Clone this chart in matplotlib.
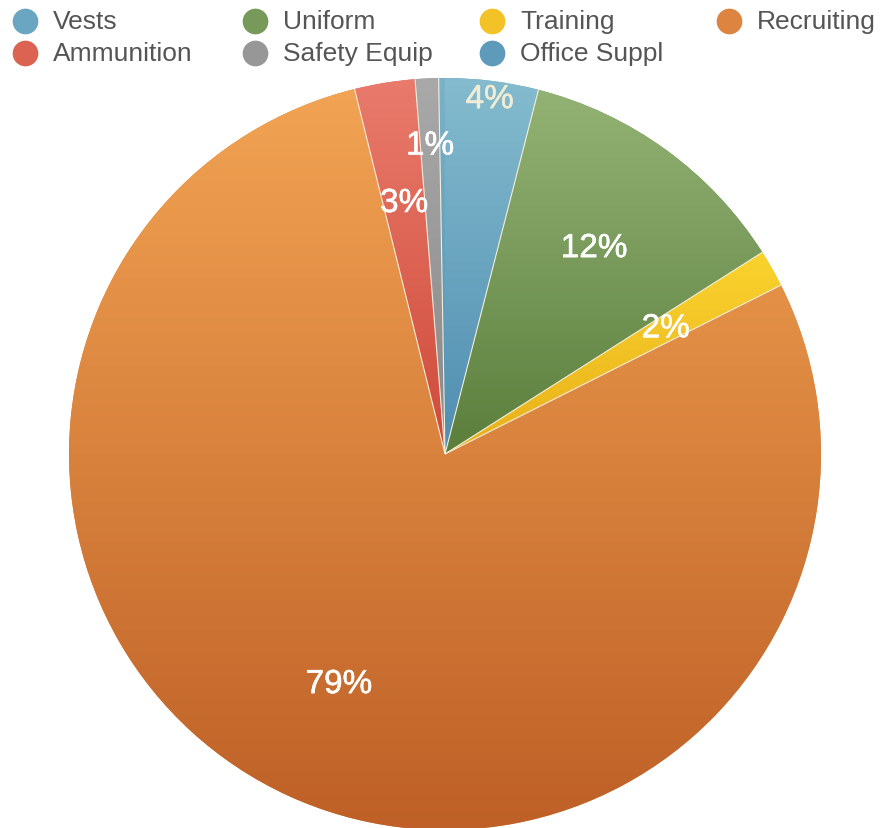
import numpy as np
import matplotlib
matplotlib.use("Agg")
import matplotlib.pyplot as plt
import matplotlib.patheffects as pe
from matplotlib.colors import LinearSegmentedColormap

plt.rcParams['font.family'] = ['Liberation Sans', 'DejaVu Sans']

# 各类支出占比（%）
categories = ["Vests", "Uniform", "Training", "Recruiting",
              "Ammunition", "Safety Equip", "Office Suppl"]
values = [4.0, 12.0, 1.6, 78.6, 2.6, 1.0, 0.27]

# 每个扇区的渐变色：上端浅色 -> 下端深色
top_colors = ["#84BBCE", "#93B374", "#FAD32E", "#F2A353",
              "#E97B6C", "#A9A9A9", "#7AB2C9"]
bottom_colors = ["#4F8DB0", "#5B7E3D", "#E8B01A", "#BE6027",
                 "#CF4A39", "#888888", "#4F8DB0"]
legend_colors = ["#6AA6C2", "#77995A", "#F2C226", "#DC8440",
                 "#DC6352", "#979797", "#5E9BBA"]

# 标签沿半径方向的位置（小扇区的标签向外挪，避免重叠）
label_radius = [0.95, 0.675, 0.675, 0.675, 0.675, 0.82, None]
label_colors = ["#F1ECD6", "white", "white", "white", "white", "white", "white"]

W, H = 883, 829
fig = plt.figure(figsize=(W / 100, H / 100), dpi=100)

# 饼图区域：圆心 (445, 455)，半径 376 像素
cx, cy, R = 445, 455, 376
ax = fig.add_axes([(cx - R) / W, (H - cy - R) / H, 2 * R / W, 2 * R / H])

wedges, _ = ax.pie(values, startangle=90, counterclock=False, radius=1,
                   colors=legend_colors, wedgeprops=dict(linewidth=0))

# 给每个扇区铺一层竖直渐变，并裁剪到扇区形状内
grad = np.linspace(0, 1, 256).reshape(-1, 1)
for w, c_top, c_bot in zip(wedges, top_colors, bottom_colors):
    bb = w.get_path().get_extents()
    cmap = LinearSegmentedColormap.from_list("g", [c_bot, c_top])
    im = ax.imshow(grad, cmap=cmap, origin="lower", aspect="auto",
                   extent=[bb.x0, bb.x1, bb.y0, bb.y1], zorder=w.get_zorder() + 0.1,
                   interpolation="bilinear")
    im.set_clip_path(w)

# 相邻扇区之间的分隔线（只画半径方向，不画外圈）
bounds = 90 - np.cumsum(values)[:-1] / sum(values) * 360
for a in np.deg2rad(bounds):
    ax.plot([0, np.cos(a)], [0, np.sin(a)], color="#F3EEDD", linewidth=0.8,
            zorder=5, solid_capstyle="butt")

total = sum(values)
for w, v, r, col in zip(wedges, values, label_radius, label_colors):
    if r is None:
        continue
    mid = np.deg2rad((w.theta1 + w.theta2) / 2)
    ax.text(r * np.cos(mid), r * np.sin(mid), f"{round(v / total * 100):d}%",
            ha="center", va="center", fontsize=24, color=col, zorder=10,
            path_effects=[pe.withStroke(linewidth=0.4, foreground=col)])

ax.set_xlim(-1, 1)
ax.set_ylim(-1, 1)
ax.set_aspect("equal")
ax.axis("off")

# 图例：4 列 2 行，放在顶部
col_x = [25, 255, 492, 729]
row_y = [22, 54]
for i, (name, col) in enumerate(zip(categories, legend_colors)):
    x = col_x[i % 4]
    y = row_y[i // 4]
    fig.lines.append(plt.Line2D([x / W], [1 - y / H], transform=fig.transFigure,
                                marker="o", markersize=18.5, color=col,
                                markeredgewidth=0, linestyle="none"))
    fig.text((x + 28) / W, 1 - y / H, name, ha="left", va="center",
             fontsize=19, color="#555555")

fig.savefig("out.png", dpi=100)
